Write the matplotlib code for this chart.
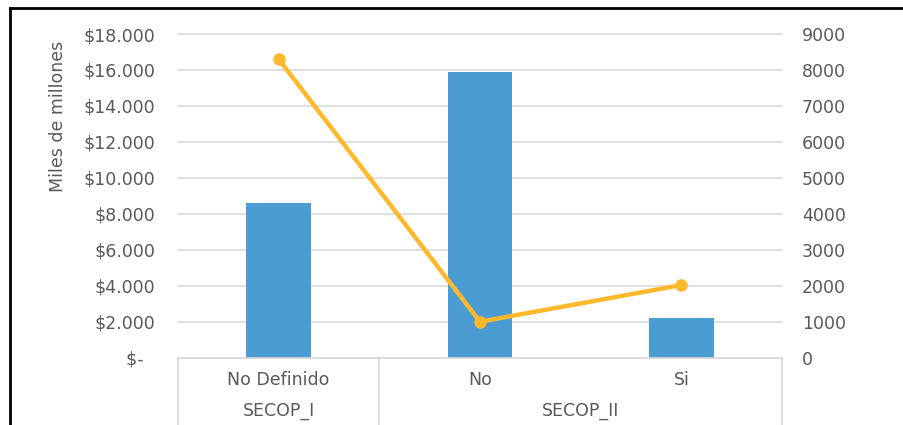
import matplotlib
matplotlib.use("Agg")
import matplotlib.pyplot as plt
from matplotlib.lines import Line2D
from matplotlib.ticker import FuncFormatter, MultipleLocator
import matplotlib.transforms as mtransforms

categories = ["No Definido", "No", "Si"]
groups = ["SECOP_I", "SECOP_II"]
group_members = [[0], [1, 2]]
valor = [8580, 15870, 2235]        # Miles de millones (left axis)
cantidad = [8300, 1000, 2020]      # right axis

BAR = "#4A9CD2"
LINE = "#FDB82C"
TXT = "#595959"
GRID = "#D9D9D9"
FS = 12.5

plt.rcParams['font.family'] = ['DejaVu Sans']

fig = plt.figure(figsize=(9.04, 4.25), dpi=100)
W, H = 904, 425
ax = fig.add_axes([178 / W, 1 - 357.7 / H, (782 - 178) / W, (357.7 - 34) / H])

x = list(range(len(categories)))
ax.bar(x, valor, width=0.32, color=BAR, zorder=2)
ax.set_xlim(-0.5, len(categories) - 0.5)
ax.set_ylim(0, 18000)
ax.yaxis.set_major_locator(MultipleLocator(2000))

def money(v, pos):
    if v == 0:
        return "$-  "
    return "$" + f"{int(v):,}".replace(",", ".")

ax.yaxis.set_major_formatter(FuncFormatter(money))
ax.grid(axis='y', color=GRID, linewidth=1.2, zorder=0)
ax.set_axisbelow(True)
for gl in ax.get_ygridlines():
    gl.set_clip_on(False)
for s in ["top", "right", "left"]:
    ax.spines[s].set_visible(False)
ax.spines["bottom"].set_color(GRID)
ax.spines["bottom"].set_linewidth(1.2)
ax.tick_params(axis='y', length=0, pad=16.5, labelsize=FS, labelcolor=TXT)
ax.set_xticks([])

ax2 = ax.twinx()
ax2.plot(x, cantidad, color=LINE, linewidth=3.2, marker='o', markersize=8,
         solid_capstyle='round', zorder=3)
ax2.set_ylim(0, 9000)
ax2.yaxis.set_major_locator(MultipleLocator(1000))
ax2.tick_params(axis='y', length=0, pad=14.4, labelsize=FS, labelcolor=TXT)
for s in ["top", "right", "left", "bottom"]:
    ax2.spines[s].set_visible(False)

# multi-level category axis
trans = mtransforms.blended_transform_factory(ax.transData, ax.transAxes)
for i, c in enumerate(categories):
    ax.text(i, -0.069, c, transform=trans, ha='center', va='center',
            fontsize=FS, color=TXT)
for g, mem in zip(groups, group_members):
    cx = (mem[0] + mem[-1]) / 2
    ax.text(cx, -0.165, g, transform=trans, ha='center', va='center',
            fontsize=FS, color=TXT)
bounds = [-0.5] + [m[-1] + 0.5 for m in group_members]
for b in bounds:
    ax.add_line(Line2D([b, b], [0, -0.25], transform=trans, color=GRID,
                       linewidth=1.2, clip_on=False))

fig.text(58 / W, 1 - 116 / H, "Miles de millones", rotation=90, ha='center',
         va='center', fontsize=FS, color=TXT)

# outer frame (left and top)
fig.add_artist(Line2D([10 / W, 10 / W], [0, 1 - 8 / H], transform=fig.transFigure,
                      color="black", linewidth=2))
fig.add_artist(Line2D([10 / W, 1], [1 - 8 / H, 1 - 8 / H], transform=fig.transFigure,
                      color="black", linewidth=2))

fig.savefig("out.png", dpi=100)
